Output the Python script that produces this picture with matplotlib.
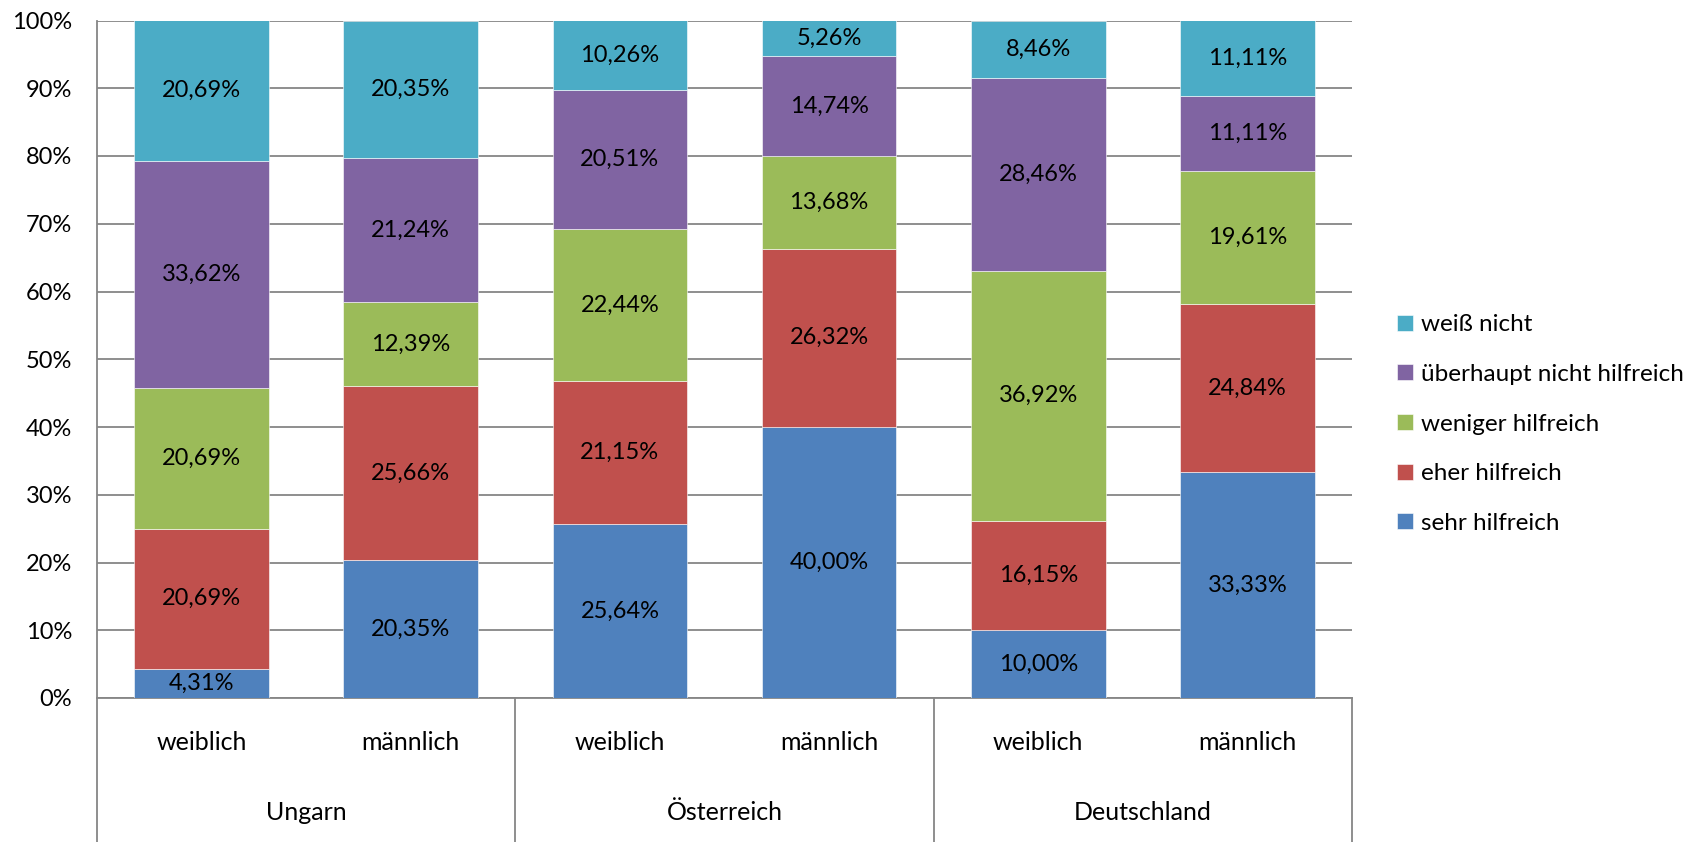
import matplotlib.pyplot as plt
from matplotlib.transforms import blended_transform_factory
import numpy as np

plt.rcParams['font.family'] = ['Lato', 'DejaVu Sans']

# Daten
groups = ["Ungarn", "Österreich", "Deutschland"]
genders = ["weiblich", "männlich"]
series_names = ["sehr hilfreich", "eher hilfreich", "weniger hilfreich",
                "überhaupt nicht hilfreich", "weiß nicht"]
sehr = [4.31, 20.35, 25.64, 40.00, 10.00, 33.33]
eher = [20.69, 25.66, 21.15, 26.32, 16.15, 24.84]
weniger = [20.69, 12.39, 22.44, 13.68, 36.92, 19.61]
ueberhaupt = [33.62, 21.24, 20.51, 14.74, 28.46, 11.11]
weiss = [20.69, 20.35, 10.26, 5.26, 8.46, 11.11]
colors = ["#4F81BD", "#C0504D", "#9BBB59", "#8064A2", "#4BACC6"]

values = [sehr, eher, weniger, ueberhaupt, weiss]

fig = plt.figure(figsize=(16.95, 8.42), dpi=100)
ax = fig.add_axes([97 / 1695, 144 / 842, (1352 - 97) / 1695, (698 - 20.5) / 842])

x = np.arange(len(sehr))
bottom = np.zeros(len(sehr))
bars = []
for name, vals, c in zip(series_names, values, colors):
    b = ax.bar(x, vals, width=0.644, bottom=bottom, color=c, label=name,
               edgecolor="white", linewidth=0.4, zorder=3)
    bars.append(b)
    for xi, v, b0 in zip(x, vals, bottom):
        ax.text(xi, b0 + v / 2, f"{v:.2f}%".replace(".", ","), ha="center", va="center",
                fontsize=17, color="black", zorder=4)
    bottom = bottom + np.array(vals)

ax.set_xlim(-0.5, len(sehr) - 0.5)
ax.set_ylim(0, 100)
ax.set_yticks(np.arange(0, 101, 10))
ax.set_yticklabels([f"{t}%" for t in range(0, 101, 10)], fontsize=17)
ax.tick_params(axis="y", length=0, pad=18)
ax.tick_params(axis="x", length=0, labelbottom=False)
ax.yaxis.grid(True, color="#868686", linewidth=1.3, zorder=0)
ax.set_axisbelow(True)
for s in ["top", "right"]:
    ax.spines[s].set_visible(False)
for s in ["left", "bottom"]:
    ax.spines[s].set_color("#868686")
    ax.spines[s].set_linewidth(1.3)

# Kategorienachse mit zwei Ebenen
tr = blended_transform_factory(ax.transData, fig.transFigure)
for i, xi in enumerate(x):
    ax.text(xi, 1 - 742 / 842, genders[i % 2], transform=tr, ha="center", va="center",
            fontsize=18)
for g, name in enumerate(groups):
    ax.text(2 * g + 0.5, 1 - 813 / 842, name, transform=tr, ha="center", va="center",
            fontsize=18)
for xs in [-0.5, 1.5, 3.5, 5.5]:
    ax.plot([xs, xs], [0, 144 / 842], transform=tr, color="#868686", linewidth=1.3,
            clip_on=False)

leg = ax.legend(handles=bars[::-1], loc="upper left",
                bbox_to_anchor=(1385 / 1695, 1 - 302 / 842), bbox_transform=fig.transFigure,
                frameon=False, fontsize=17.5, handlelength=0.65, handleheight=0.65,
                handletextpad=0.35, labelspacing=1.18, borderpad=0)

fig.savefig("out.png", dpi=100)
